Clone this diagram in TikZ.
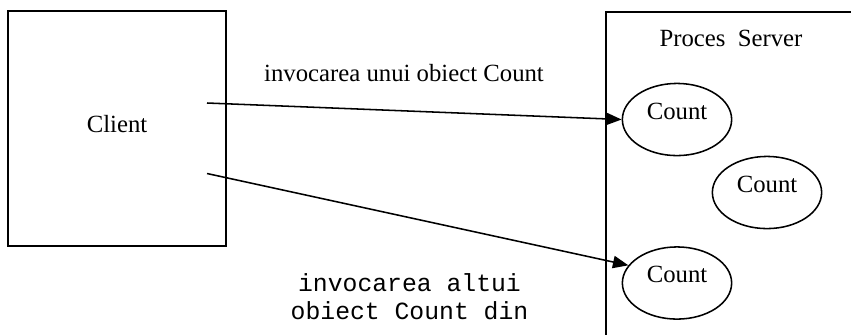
\documentclass[tikz,border=0pt]{standalone}
\usepackage{fontspec}
\setmainfont{Liberation Serif}
\setmonofont{Liberation Mono}
\usetikzlibrary{arrows.meta,shapes.geometric}

\begin{document}
\begin{tikzpicture}[
    x=0.485pt,y=-0.485pt,>={Triangle[length=7.5pt,width=6pt]},
    line width=0.75pt,font=\fontsize{12}{14}\selectfont,
    box/.style={draw,rectangle,inner sep=0pt},
    obj/.style={
      draw,ellipse,minimum width=53pt,minimum height=35pt,
      inner sep=0pt,text depth=8pt
    },
    code/.style={
      anchor=base,inner sep=0pt,text height=7.5pt,text depth=0pt,
      font=\ttfamily\fontsize{12}{14}\selectfont
    }]
    \useasboundingbox (0,0) rectangle (851,334);
    \clip (0,0) rectangle (851,334);
    \node[box,minimum width=105.7pt,minimum height=114pt] (client) at (117,128.5) {};
    \node at (117,124) {Client};
    \node[box,anchor=north west,minimum width=160pt,minimum height=200pt] (server) at (605,11) {};
    \node (title) at (731,38) {Proces\ \ Server};
    \node[obj] (cnt1) at (677,119.5) {Count};
    \node[obj] (cnt2) at (767,192.5) {Count};
    \node[obj] (cnt3) at (677,283) {Count};
    \coordinate (c1) at (207,103);
    \coordinate (c2) at (207,173.5);
    \draw[->] (c1)--(cnt1.west);
    \draw[->] (c2)--(cnt3.160);
    \node (lbl1) at (404,73) {invocarea unui obiect Count};
    \node[code] (lbl2a) at (409.5,291) {invocarea altui};
    \node[code] (lbl2b) at (409.5,319) {obiect Count din};
  \end{tikzpicture}
\end{document}
